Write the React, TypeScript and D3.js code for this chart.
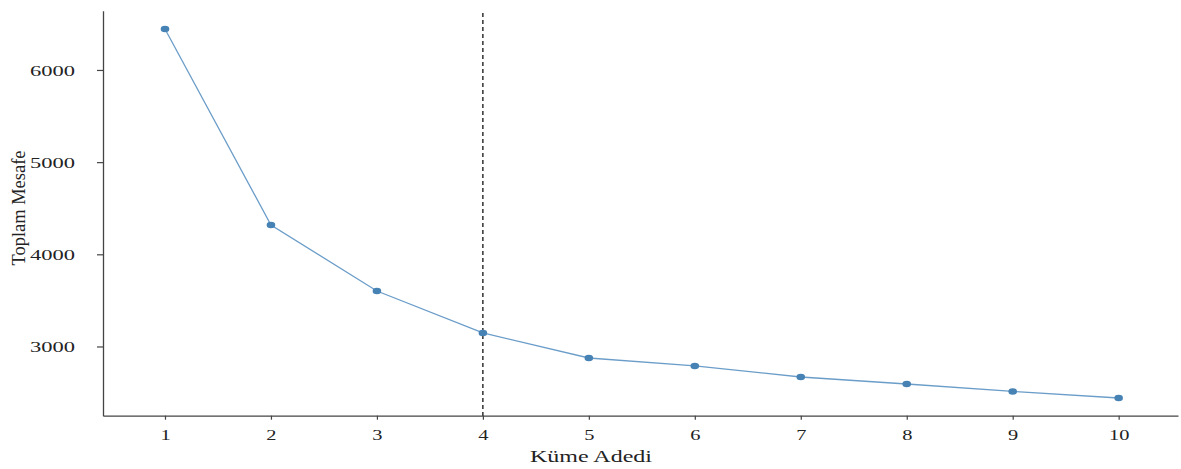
import React, { useEffect, useRef } from 'react';
import * as d3 from 'd3';

// Elbow chart data
const clusters = [1, 2, 3, 4, 5, 6, 7, 8, 9, 10];
const totalDistance = [6445, 4318, 3602, 3147, 2875, 2789, 2669, 2593, 2512, 2441];
const yTicks = [3000, 4000, 5000, 6000];
const elbowAt = 4;

const App = () => {
  const svgRef = useRef<SVGSVGElement>(null);

  useEffect(() => {
    if (!svgRef.current) return;
    const width = 1181;
    const height = 469;

    d3.select(svgRef.current).selectAll('*').remove();
    const svg = d3.select(svgRef.current)
      .attr('width', width)
      .attr('height', height);

    const left = 103;
    const right = 1178;
    const top = 10.7;
    const bottom = 415.7;

    const xScale = d3.scaleLinear().domain([0.415, 10.56]).range([left, right]);
    const yScale = d3.scaleLinear().domain([2249, 6643]).range([bottom, top]);

    const serif = '"Liberation Serif", "Times New Roman", serif';

    // x axis
    const xAxis = svg.append('g')
      .attr('transform', `translate(0,${bottom})`)
      .call(d3.axisBottom(xScale).tickValues(clusters).tickSize(4).tickSizeOuter(0).tickFormat(d3.format('d')));
    xAxis.select('.domain').attr('stroke', '#444').attr('stroke-width', 1.3);
    xAxis.selectAll('.tick line').attr('stroke', '#444').attr('stroke-width', 1.2);
    xAxis.selectAll('.tick text')
      .attr('y', 0)
      .attr('dy', 0)
      .attr('transform', 'translate(0,24)')
      .style('font-family', serif)
      .style('font-size', '15.5px')
      .attr('fill', '#222')
      .attr('textLength', (d: any) => String(d).length * 10.2)
      .attr('lengthAdjust', 'spacingAndGlyphs');

    // y axis
    const yAxis = svg.append('g')
      .attr('transform', `translate(${left},0)`)
      .call(d3.axisLeft(yScale).tickValues(yTicks).tickSize(6).tickSizeOuter(0).tickFormat(d3.format('d')));
    yAxis.select('.domain').attr('stroke', '#444').attr('stroke-width', 1.3);
    yAxis.selectAll('.tick line').attr('stroke', '#444').attr('stroke-width', 1.2);
    yAxis.selectAll('.tick text')
      .attr('x', -28)
      .attr('dy', '0.35em')
      .style('font-family', serif)
      .style('font-size', '15.5px')
      .attr('fill', '#222')
      .attr('textLength', 45)
      .attr('lengthAdjust', 'spacingAndGlyphs');

    // elbow marker
    svg.append('line')
      .attr('x1', xScale(elbowAt))
      .attr('x2', xScale(elbowAt))
      .attr('y1', 13)
      .attr('y2', bottom)
      .attr('stroke', '#111')
      .attr('stroke-width', 1.3)
      .attr('stroke-dasharray', '4,3');

    const points = clusters.map((c, i) => ({ c, v: totalDistance[i] }));

    const line = d3.line<{ c: number; v: number }>()
      .x(d => xScale(d.c))
      .y(d => yScale(d.v));

    svg.append('path')
      .datum(points)
      .attr('d', line)
      .attr('fill', 'none')
      .attr('stroke', '#6b9dc9')
      .attr('stroke-width', 1.3);

    svg.selectAll('.pt')
      .data(points)
      .enter()
      .append('ellipse')
      .attr('class', 'pt')
      .attr('cx', d => xScale(d.c))
      .attr('cy', d => yScale(d.v))
      .attr('rx', 4.3)
      .attr('ry', 3.3)
      .attr('fill', '#4682b4');

    // axis titles
    svg.append('text')
      .attr('x', 591)
      .attr('y', 462)
      .attr('text-anchor', 'middle')
      .style('font-family', serif)
      .style('font-size', '17px')
      .attr('fill', '#222')
      .attr('textLength', 122)
      .attr('lengthAdjust', 'spacingAndGlyphs')
      .text('Küme Adedi');

    svg.append('text')
      .attr('transform', 'translate(25,208) rotate(-90)')
      .attr('text-anchor', 'middle')
      .style('font-family', serif)
      .style('font-size', '19px')
      .attr('fill', '#222')
      .attr('textLength', 115)
      .attr('lengthAdjust', 'spacingAndGlyphs')
      .text('Toplam Mesafe');
  }, []);

  return <svg ref={svgRef} style={{ position: 'absolute', left: 0, top: 0 }}></svg>;
};

export default App;
